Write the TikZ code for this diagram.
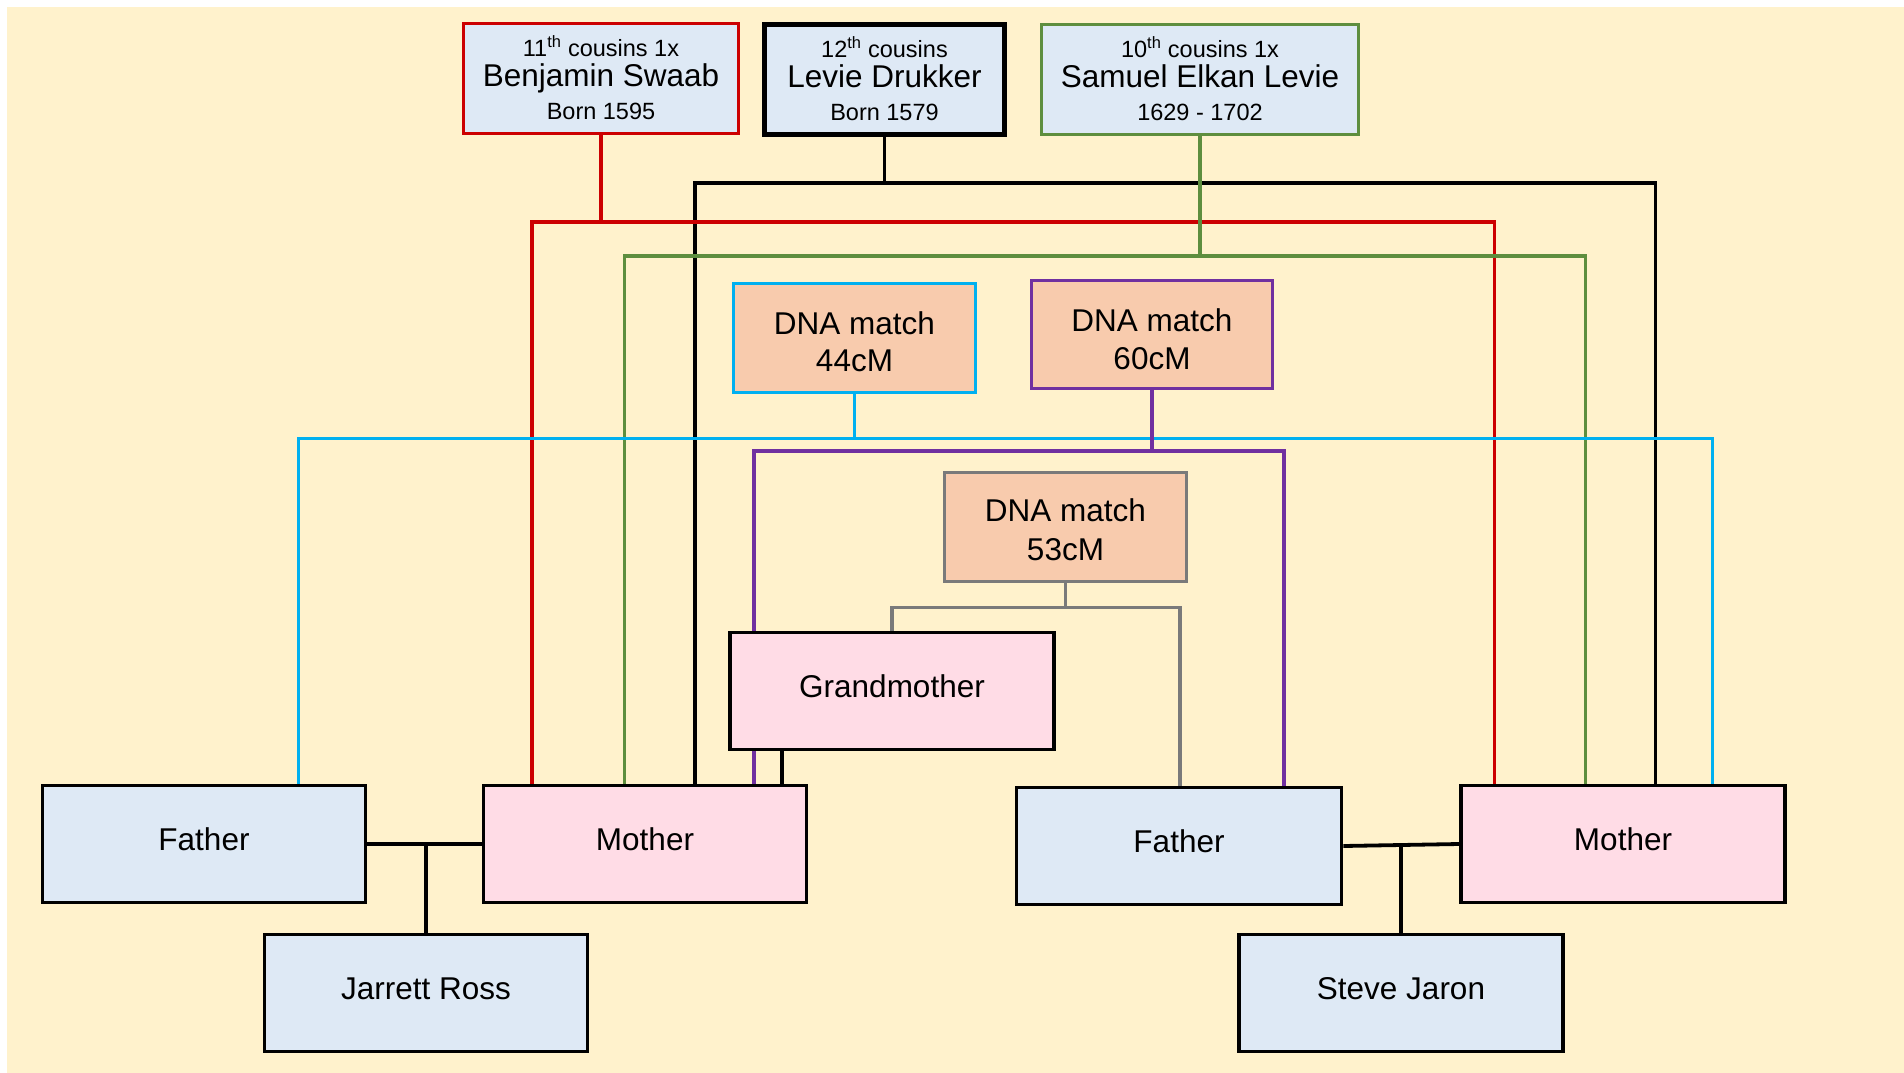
\documentclass[tikz,border=0pt]{standalone}
\usepackage{fontspec}
\setmainfont{Liberation Sans}
\pgfdeclarelayer{bgl}
\pgfdeclarelayer{lines}
\pgfsetlayers{bgl,lines,main}
\definecolor{bgc}{HTML}{FFF2CC}
\definecolor{bluef}{HTML}{DEE9F5}
\definecolor{pinkf}{HTML}{FFDCE6}
\definecolor{peachf}{HTML}{F8CBAD}
\definecolor{redc}{HTML}{CC0000}
\definecolor{greenc}{HTML}{5E8E3E}
\definecolor{cyanc}{HTML}{00B0F0}
\definecolor{purplec}{HTML}{7030A0}
\definecolor{grayc}{HTML}{7A7A7A}
\begin{document}
\begin{tikzpicture}[x=1pt,y=-1pt,
  stdbox/.style={draw=black,line width=3.6pt,inner sep=0pt,text height=22pt,text depth=9pt,
     font=\fontsize{31.5}{36}\selectfont},
  bluebox/.style={stdbox,fill=bluef},
  pinkbox/.style={stdbox,fill=pinkf},
  dnabox/.style={stdbox,fill=peachf},
  txtbig/.style={font=\fontsize{31.5}{36}\selectfont,anchor=base,inner sep=0pt},
  txtsmall/.style={font=\fontsize{23.5}{28}\selectfont,anchor=base,inner sep=0pt},
  conn/.style={line width=3.3pt}]
\useasboundingbox (0,0) rectangle (1904,1073);
\begin{pgfonlayer}{bgl}
\fill[bgc] (7,7) rectangle (1904,1073);
\end{pgfonlayer}

% top ancestor boxes
\node[bluebox,draw=redc,minimum width=275pt,minimum height=110pt] (ben) at (601,78.5) {};
\node[bluebox,line width=4.2pt,minimum width=240pt,minimum height=110pt] (lev) at (884.5,79.5) {};
\node[bluebox,draw=greenc,minimum width=317pt,minimum height=110pt] (sam) at (1200,79.5) {};
\node[txtsmall] (ben1) at (601,57) {11\textsuperscript{th} cousins 1x};
\node[txtbig] (ben2) at (601,87) {Benjamin Swaab};
\node[txtsmall] (ben3) at (601,119) {Born 1595};
\node[txtsmall] (lev1) at (884.5,57.5) {12\textsuperscript{th} cousins};
\node[txtbig] (lev2) at (884.5,88) {Levie Drukker};
\node[txtsmall] (lev3) at (884.5,120) {Born 1579};
\node[txtsmall] (sam1) at (1200,57.5) {10\textsuperscript{th} cousins 1x};
\node[txtbig] (sam2) at (1200,88) {Samuel Elkan Levie};
\node[txtsmall] (sam3) at (1200,120) {1629 - 1702};

% DNA match boxes
\node[dnabox,draw=cyanc,minimum width=242pt,minimum height=109pt] (d44) at (854.5,338) {};
\node[txtbig] (d44a) at (854.5,334) {DNA match};
\node[txtbig] (d44b) at (854.5,371.5) {44cM};
\node[dnabox,draw=purplec,minimum width=241pt,minimum height=108pt] (d60) at (1152,334.5) {};
\node[txtbig] (d60a) at (1152,331) {DNA match};
\node[txtbig] (d60b) at (1152,369) {60cM};
\node[dnabox,draw=grayc,minimum width=242pt,minimum height=109pt] (d53) at (1065.5,527) {};
\node[txtbig] (d53a) at (1065.5,521.5) {DNA match};
\node[txtbig] (d53b) at (1065.5,560.5) {53cM};

% family boxes
\node[pinkbox,minimum width=324pt,minimum height=117pt] (gm) at (892,691) {Grandmother};
\node[bluebox,minimum width=323pt,minimum height=117pt] (fL) at (204,844) {Father};
\node[pinkbox,minimum width=323pt,minimum height=117pt] (mL) at (645,844) {Mother};
\node[bluebox,minimum width=323pt,minimum height=117pt] (jr) at (426,993) {Jarrett Ross};
\node[bluebox,minimum width=325pt,minimum height=117pt] (fR) at (1179,846) {Father};
\node[pinkbox,minimum width=324pt,minimum height=117pt] (mR) at (1623,844) {Mother};
\node[bluebox,minimum width=324pt,minimum height=117pt] (sj) at (1401,993) {Steve Jaron};

\begin{pgfonlayer}{lines}
\coordinate (kbar) at (0,183);
\coordinate (rbar) at (0,222);
\coordinate (gbar) at (0,256);
\coordinate (cbar) at (0,438.5);
\coordinate (pbar) at (0,451);
\coordinate (ybar) at (0,607.5);
\coordinate (xr1) at (532,0);
\coordinate (xr2) at (1494.5,0);
\coordinate (xk1) at (695,0);
\coordinate (xk2) at (1655.5,0);
\coordinate (xg1) at (624.5,0);
\coordinate (xg2) at (1585.5,0);
\coordinate (xc1) at (298.5,0);
\coordinate (xc2) at (1712.5,0);
\coordinate (xp1) at (754,0);
\coordinate (xp2) at (1284,0);
\coordinate (xy2) at (1180,0);
\coordinate (xm) at (782,0);
% black (Levie Drukker)
\draw[conn,black] (lev.south) -- (lev.south |- kbar);
\draw[conn,black] (xk1 |- mL.north) -- (xk1 |- kbar) -- (xk2 |- kbar) -- (xk2 |- mR.north);
% red (Benjamin Swaab)
\draw[conn,redc] (ben.south) -- (ben.south |- rbar);
\draw[conn,redc] (xr1 |- mL.north) -- (xr1 |- rbar) -- (xr2 |- rbar) -- (xr2 |- mR.north);
% green (Samuel Elkan Levie)
\draw[conn,greenc] (sam.south) -- (sam.south |- gbar);
\draw[conn,greenc] (xg1 |- mL.north) -- (xg1 |- gbar) -- (xg2 |- gbar) -- (xg2 |- mR.north);
% cyan (44cM)
\draw[conn,cyanc] (d44.south) -- (d44.south |- cbar);
\draw[conn,cyanc] (xc1 |- fL.north) -- (xc1 |- cbar) -- (xc2 |- cbar) -- (xc2 |- mR.north);
% purple (60cM)
\draw[conn,purplec] (d60.south) -- (d60.south |- pbar);
\draw[conn,purplec] (xp1 |- mL.north) -- (xp1 |- pbar) -- (xp2 |- pbar) -- (xp2 |- fR.north);
% gray (53cM)
\draw[conn,grayc] (d53.south) -- (d53.south |- ybar);
\draw[conn,grayc] (gm.north) -- (gm.north |- ybar) -- (xy2 |- ybar) -- (xy2 |- fR.north);
% grandmother to mother
\draw[conn,black] (xm |- gm.south) -- (xm |- mL.north);
% couples and children
\draw[conn,black,line width=3.8pt] (fL.east) -- (mL.west);
\draw[conn,black] (jr.north |- fL.east) -- (jr.north);
\draw[conn,black,line width=3.8pt] (fR.east) -- (mR.west);
\draw[conn,black] (sj.north |- mR.west) -- (sj.north);
\end{pgfonlayer}
\end{tikzpicture}
\end{document}
